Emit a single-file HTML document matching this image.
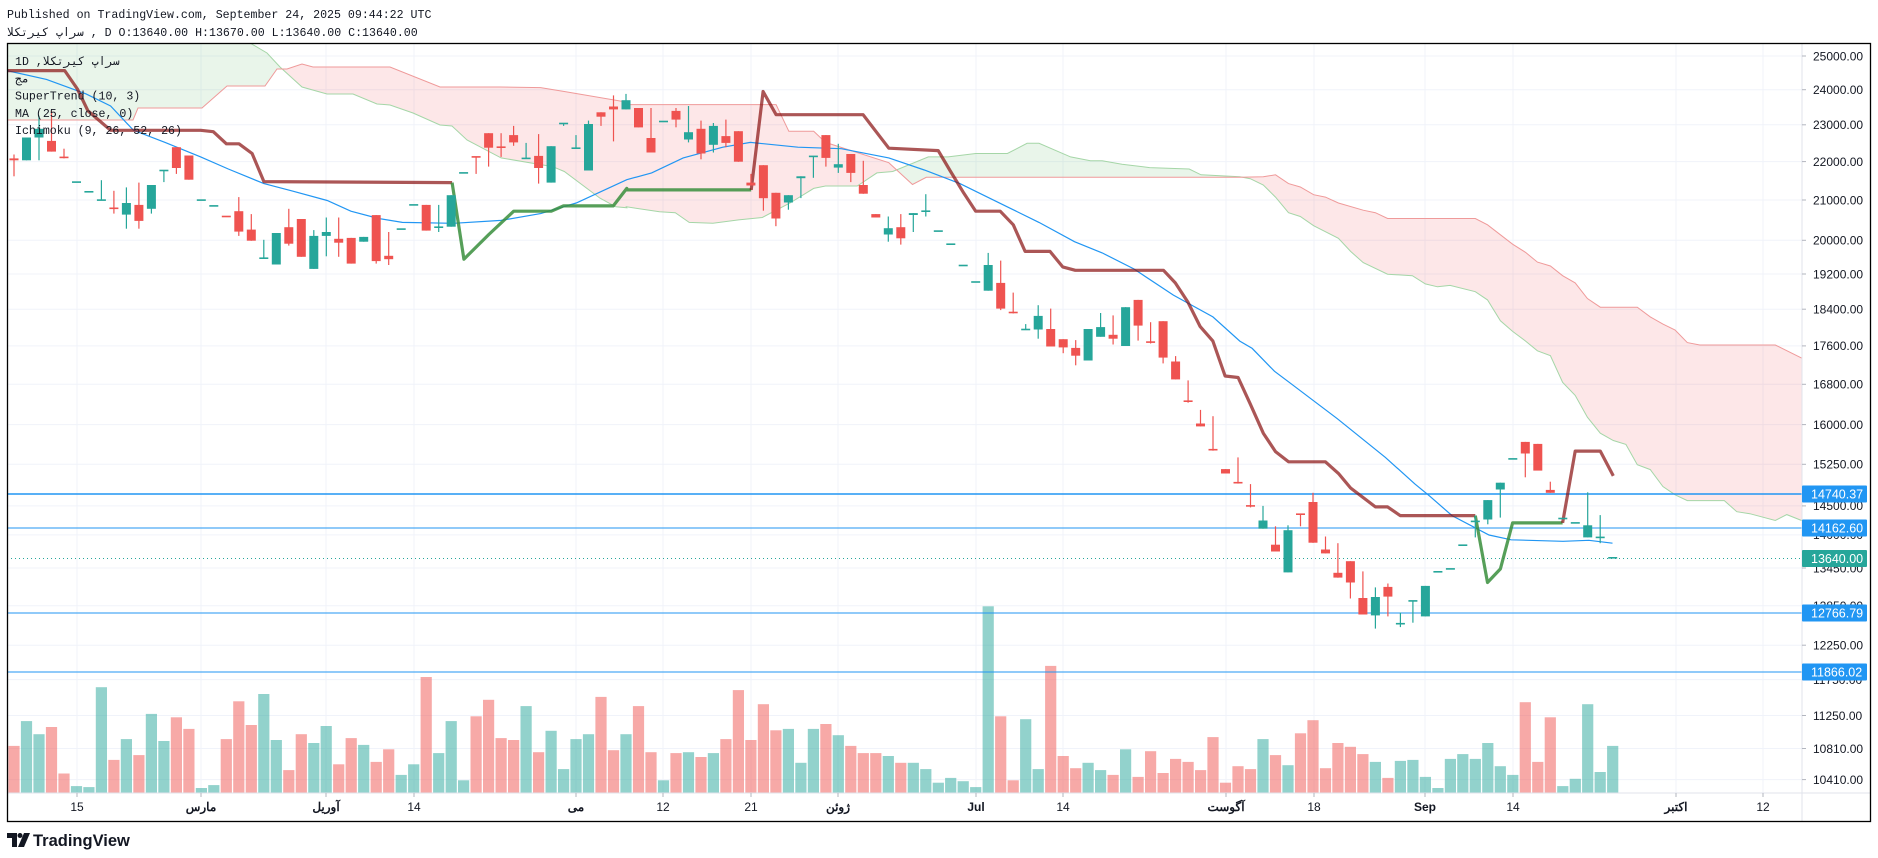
<!DOCTYPE html>
<html><head><meta charset="utf-8"><style>
html,body{margin:0;padding:0;background:#fff;}
svg{display:block;}
</style></head><body>
<svg id="s" width="1878" height="858" xmlns="http://www.w3.org/2000/svg" font-family="'Liberation Sans','Noto Sans CJK SC',sans-serif"></svg>
<script>
(function(){
const S=document.getElementById('s');
let h='';
const Y=p=>56+(10.1266-Math.log(p))*826;
const z4=(x,y)=>[7+x/2.53,43+y/2.063];
const z5=(x,y)=>[620+x/2.53,43+y/2.063];
const z6=(x,y)=>[1230+x/2.703,43+y/2.063];
const zy=y=>43+y/2.063;
function pts(f,a){let r=[];for(let i=0;i<a.length;i+=2){r.push(f(a[i],a[i+1]));}return r;}
function ps(p){return p.map(q=>q[0].toFixed(1)+','+q[1].toFixed(1)).join(' ');}
h+=`<text x="7" y="18" font-family="'Liberation Mono','DejaVu Sans Mono',monospace" font-size="11.6" fill="#131722">Published on TradingView.com, September 24, 2025 09:44:22 UTC</text>`;
h+=`<text x="7" y="36" font-family="'Liberation Mono','DejaVu Sans Mono',monospace" font-size="11.6" fill="#131722"><tspan>سراپ کیرتکلا</tspan><tspan> , D O:13640.00 H:13670.00 L:13640.00 C:13640.00</tspan></text>`;
h+=`<defs><clipPath id="c"><rect x="7" y="43" width="1795" height="750"/></clipPath>`;
const A=[[7,10],[245,10],[250,43],[267,53],[280,67],[302,87],[327,94],[353,94],[377,104],[390,105],[413,113],[440,125],[452,126],[467,140]]
 .concat(pts(z4,[1250,237,1380,255,1410,265,1500,320,1540,338,1568,340]).filter(p=>p[0]>467))
 .concat(pts(z5,[16,338,100,348,140,350,175,370,235,372,300,365,360,360,430,330,490,300,520,295,600,295,650,268,690,265,780,235,830,235,900,228,980,228,1030,207,1060,207,1140,235,1190,243,1220,243,1270,250,1340,257,1440,260,1470,272,1568,276]))
 .concat(pts(z6,[55,280,90,293,123,318,158,350,190,358,226,377,293,403,326,430,360,453,426,477,493,480,528,497,561,503,595,500,663,513,696,530,731,573,764,595,799,615,831,635,866,645,899,700,933,727,966,772,1001,805,1036,820,1070,828,1101,870,1136,880,1170,915,1203,932,1236,944,1336,944,1370,967,1405,971,1474,985,1505,973,1545,985]));
const B=[[7,120],[133,120],[138,108],[202,108],[227,86],[265,86],[277,69],[287,69],[302,64],[313,67],[390,67],[440,87],[500,87]]
 .concat(pts(z4,[548,90,650,90,683,53,745,45,1095,92,1350,92,1410,100,1568,122]).filter(p=>p[0]>500))
 .concat(pts(z5,[16,127,395,127,427,182,490,182,520,205,680,247,740,292,775,277,1568,277]))
 .concat(pts(z6,[90,276,123,272,158,290,190,297,226,313,258,318,293,330,360,345,393,350,426,362,663,362,696,375,764,415,799,432,831,452,866,460,899,480,933,495,966,527,1001,545,1101,545,1136,565,1170,580,1203,592,1236,618,1270,623,1474,623,1545,650]));
const topE=[[1802,0],[7,0]], botE=[[1802,900],[7,900]];
h+=`<clipPath id="belowA"><polygon points="${ps(A.concat(botE))}"/></clipPath><clipPath id="belowB"><polygon points="${ps(B.concat(botE))}"/></clipPath></defs>`;
h+=`<g clip-path="url(#c)">`;
const ticks=[25000,24000,23000,22000,21000,20000,19200,18400,17600,16800,16000,15250,14500,14000,13450,12850,12250,11750,11250,10810,10410];
ticks.forEach(t=>{h+=`<line x1="7" x2="1802" y1="${Y(t).toFixed(1)}" y2="${Y(t).toFixed(1)}" stroke="#f0f3fa" stroke-width="1"/>`;});
const tx=[[77,'15',0],[201,'مارس',1],[326,'آوریل',1],[414,'14',0],[576,'می',1],[663,'12',0],[751,'21',0],[838,'ژوئن',1],[976,'Jul',1],[1063,'14',0],[1226,'آگوست',1],[1314,'18',0],[1425,'Sep',1],[1513,'14',0],[1676,'اکتبر',1],[1763,'12',0]];
tx.forEach(t=>{h+=`<line x1="${t[0]}" x2="${t[0]}" y1="43" y2="793" stroke="#f0f3fa"/>`;});
h+=`<g clip-path="url(#belowA)"><polygon points="${ps(B.concat(topE))}" fill="rgba(76,175,80,0.12)"/></g>`;
h+=`<g clip-path="url(#belowB)"><polygon points="${ps(A.concat(topE))}" fill="rgba(242,54,69,0.12)"/></g>`;
h+=`<polyline points="${ps(A)}" fill="none" stroke="#a5d6a7" stroke-width="1"/>`;
h+=`<polyline points="${ps(B)}" fill="none" stroke="#ef9a9a" stroke-width="1"/>`;
const C=[[238,242,230,275,0],[195,242,195,242,1],[177,195,150,242,1],[202,224,140,224,0],[236,238,218,238,0],[287,287,287,287,1],[307,307,307,307,1],[324,324,283,324,1],[341,344,305,352,0],[330,354,298,383,1],[334,367,288,383,0],[293,342,293,352,1],[263,263,263,287,1],[215,258,215,270,0],[232,282,232,282,0],[324,324,324,324,1],[336,336,336,336,1],[358,358,358,358,0],[347,389,318,398,0],[385,408,353,408,0],[444,444,406,444,1],[392,457,392,457,1],[380,414,342,418,0],[363,441,363,441,0],[398,466,386,466,1],[390,398,360,440,1],[404,412,360,441,0],[402,455,402,455,0],[400,410,400,410,1],[355,450,355,455,0],[439,446,390,458,0],[384,384,384,384,1],[334,334,334,334,1],[334,387,334,387,0],[380,380,334,390,1],[314,379,314,379,1],[268,268,268,268,1],[235,235,235,270,0],[186,216,186,255,0],[215,215,186,235,0],[190,205,171,212,0],[238,238,206,238,1],[233,258,188,290,0],[213,288,213,288,1],[166,166,166,171,1],[217,217,190,217,1],[167,263,160,263,1],[143,152,143,171,0],[131,137,108,203,0],[118,137,105,137,1],
[134,174,134,174,0],[196,226,134,226,0],[162,162,162,162,1],[140,158,134,174,0],[184,199,130,205,1],[177,228,160,240,0],[171,210,165,226,1],[192,206,158,215,0],[182,245,182,245,0],[288,294,270,294,0],[252,320,252,346,0],[309,362,309,378,0],[314,329,314,344,1],[275,279,275,320,1],[234,234,234,278,1],[190,237,190,255,0],[250,257,208,268,1],[229,268,229,287,0],[293,311,243,311,0],[353,360,353,360,0],[382,395,358,410,1],[380,403,353,416,0],[351,355,351,390,1],[347,347,312,358,1],[388,388,388,388,1],[415,415,415,415,1],[459,459,459,459,1],[493,493,493,493,1],[458,511,433,511,1],[495,548,449,551,0],[556,556,515,558,0],[591,591,580,591,1],[563,591,541,610,1],[590,626,548,626,0],[611,628,611,640,0],[629,645,613,665,0],[590,655,590,655,1],[586,606,557,606,1],[602,610,562,622,0],[545,625,545,625,1],[530,583,530,614,0],[617,620,576,620,0],[574,649,574,661,0],[657,694,646,694,0],[739,742,696,742,0],[785,791,757,791,0],[839,839,770,841,0],[879,888,879,888,0],
[907,909,855,909,0],[955,958,910,958,0],[985,1002,955,1002,1],[1035,1049,997,1049,0],[1005,1092,995,1092,1],[972,975,972,997,0],[947,1031,928,1031,0],[1045,1053,1018,1053,0],[1093,1103,1032,1103,0],[1069,1113,1069,1146,0],[1145,1179,1090,1179,0],[1143,1181,1123,1208,1],[1122,1142,1115,1183,0],[1198,1198,1175,1205,1],[1151,1151,1151,1196,1],[1120,1183,1120,1183,1],[1091,1091,1091,1091,1],[1085,1085,1085,1085,1],[1036,1036,1036,1036,1],[987,987,975,1020,1],[943,983,943,993,1],[907,921,907,979,1],[858,858,858,858,1],[823,847,823,896,0],[827,882,827,882,0],[922,928,905,928,0],[981,981,981,981,1],[990,990,990,990,1],[995,1020,927,1020,1],[1020,1020,974,1032,1],[1062,1062,1062,1062,1]];
const V=[1450,1399,1426,1411,1507,1533,1535,1329,1479,1436,1469,1384,1440,1391,1415,1537,1531,1436,1358,1407,1343,1438,1500,1426,1444,1409,1488,1434,1448,1483,1457,1510,1488,1308,1465,1399,1521,1389,1355,1434,1438,1368,1463,1419,1498,1436,1426,1349,1459,1426,
1368,1463,1521,1465,1463,1473,1465,1436,1335,1438,1364,1418,1415,1485,1415,1405,1428,1450,1465,1465,1471,1485,1485,1498,1526,1516,1523,1535,1162,1389,1521,1395,1498,1285,1471,1496,1485,1500,1510,1457,1514,1461,1506,1477,1483,1500,1432,1526,1492,
1498,1436,1469,1490,1424,1397,1496,1444,1452,1467,1483,1516,1481,1479,1514,1537,1477,1467,1477,1444,1492,1510,1360,1483,1391,1533,1518,1364,1504,1450];
const X=i=>14+i*12.49;
V.forEach((v,i)=>{if(!C[i])return;const t=zy(v);const c=C[i][4]?'rgba(38,166,154,0.5)':'rgba(239,83,80,0.5)';h+=`<rect x="${(X(i)-5.6).toFixed(1)}" y="${t.toFixed(1)}" width="11.2" height="${(793-t).toFixed(1)}" fill="${c}"/>`;});
[[494,1.4],[528,1],[613,1],[672,1]].forEach(l=>{h+=`<line x1="7" x2="1802" y1="${l[0]}" y2="${l[0]}" stroke="#2196f3" stroke-width="${l[1]}"/>`;});
h+=`<line x1="7" x2="1802" y1="558.5" y2="558.5" stroke="#26a69a" stroke-width="1" stroke-dasharray="1,3"/>`;
const MA=pts(z4,[0,57,100,75,200,105,262,130,320,180,400,205,490,235,560,260,650,290,720,305,810,325,870,347,940,362,1000,370,1130,372,1250,366,1350,352,1440,330,1568,282])
 .concat(pts(z5,[80,268,160,237,260,215,330,205,450,215,560,218,680,237,770,262,860,290,990,342,1060,370,1150,410,1220,433,1300,466,1400,520,1500,565,1568,615]))
 .concat(pts(z6,[60,630,120,677,160,700,290,775,420,855,500,910,540,935,600,975,700,1015,760,1025,900,1028,970,1026,1034,1032]));
h+=`<polyline points="${ps(MA)}" fill="none" stroke="#2196f3" stroke-width="1.2"/>`;
const R='rgba(136,14,14,0.7)', G='rgba(56,142,60,0.85)';
const st=(p,c)=>{h+=`<polyline points="${ps(p)}" fill="none" stroke="${c}" stroke-width="3.2" stroke-linejoin="round"/>`;};
st(pts(z4,[0,57,146,57,178,95,205,140,262,180,490,180,522,183,555,208,587,208,620,228,650,286,1126,288]),R);
st(pts(z4,[1126,288,1156,446,1188,420,1219,395,1282,347,1377,347,1408,336,1534,336,1568,300]).concat(pts(z5,[16,303,332,303])),G);
st(pts(z5,[332,303,362,100,395,148,615,148,650,185,680,217,805,222,835,263,870,310,900,347,962,347,995,375,1025,430,1088,430,1120,462,1152,469,1375,469,1405,495,1437,535,1468,585,1500,615,1531,687]).concat(pts(z6,[22,690,55,745,90,805,123,843,158,864,258,864,293,888,326,918,393,957,426,957,460,975,663,975])),R);
st(pts(z6,[663,975,696,1113,731,1085,764,990,899,990]),G);
st(pts(z6,[899,990,933,842,1001,842,1036,893]),R);
C.forEach((c,i)=>{const x=X(i);const col=c[4]?'#26a69a':'#ef5350';
 const bt=zy(c[0]),bb=zy(c[1]),wt=zy(c[2]),wb=zy(c[3]);
 h+=`<line x1="${x.toFixed(1)}" x2="${x.toFixed(1)}" y1="${wt.toFixed(1)}" y2="${wb.toFixed(1)}" stroke="${col}" stroke-width="1.2"/>`;
 const hh=Math.max(1.6,bb-bt);h+=`<rect x="${(x-4.5).toFixed(1)}" y="${(bb-bt<1.6?bt-0.8:bt).toFixed(1)}" width="9" height="${hh.toFixed(1)}" fill="${col}"/>`;});
h+=`</g>`;
const lg=["1D ,سراپ کیرتکلا","مج","SuperTrend (10, 3)","MA (25, close, 0)","Ichimoku (9, 26, 52, 26)"];
lg.forEach((t,i)=>{h+=`<text x="15" y="${65+i*17.3}" font-family="'Liberation Mono','DejaVu Sans Mono',monospace" font-size="11.6" fill="#131722">${t}</text>`;});
h+=`<line x1="1802" x2="1802" y1="43" y2="821" stroke="#e0e3eb"/>`;
h+=`<line x1="7" x2="1870" y1="793" y2="793" stroke="#e0e3eb"/>`;
h+=`<rect x="7.5" y="43.5" width="1863" height="778" fill="none" stroke="#000" stroke-width="1.3"/>`;
ticks.forEach(t=>{const y=Y(t);h+=`<line x1="1802" x2="1806" y1="${y.toFixed(1)}" y2="${y.toFixed(1)}" stroke="#b2b5be"/><text x="1813" y="${(y+4.3).toFixed(1)}" font-size="12" fill="#131722">${t.toFixed(2)}</text>`;});
[[494,'14740.37','#2196f3'],[528,'14162.60','#2196f3'],[558.5,'13640.00','#26a69a'],[613,'12766.79','#2196f3'],[672,'11866.02','#2196f3']].forEach(b=>{h+=`<rect x="1802" y="${b[0]-8.5}" width="65" height="17" rx="1" fill="${b[2]}"/><text x="1811" y="${b[0]+4.5}" font-size="12.5" fill="#fff">${b[1]}</text>`;});
tx.forEach(t=>{h+=`<line x1="${t[0]}" x2="${t[0]}" y1="793" y2="797" stroke="#b2b5be"/><text x="${t[0]}" y="811" text-anchor="middle" font-size="12" ${t[2]?'font-weight="bold"':''} fill="#131722">${t[1]}</text>`;});
h+=`<path d="M7 833 H17 V847 H12 V838 H7 Z" fill="#131722"/><circle cx="20" cy="835.5" r="2.5" fill="#131722"/><path d="M24 833 H30 L24 847 H18 Z" fill="#131722"/>`;
h+=`<text x="33" y="846" font-size="16.5" font-weight="bold" fill="#131722">TradingView</text>`;
S.innerHTML=h;
})();
</script>
</body></html>
